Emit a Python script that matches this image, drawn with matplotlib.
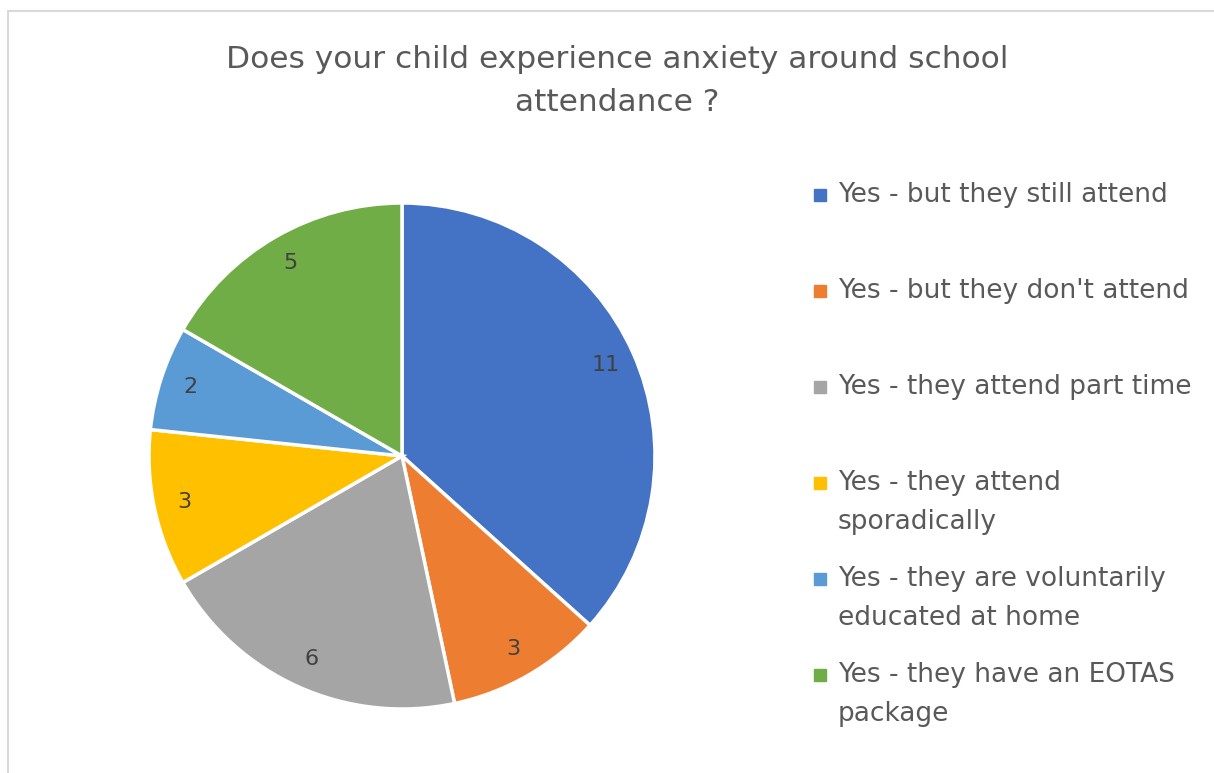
import matplotlib.pyplot as plt
from matplotlib.patches import Rectangle

# Данные опроса
labels = [
    "Yes - but they still attend",
    "Yes - but they don't attend",
    "Yes - they attend part time",
    "Yes - they attend\nsporadically",
    "Yes - they are voluntarily\neducated at home",
    "Yes - they have an EOTAS\npackage",
]
counts = [11, 3, 6, 3, 2, 5]
colors = ["#4472C4", "#ED7D31", "#A5A5A5", "#FFC000", "#5B9BD5", "#70AD47"]
title = "Does your child experience anxiety around school\nattendance ?"

W, H = 1214, 773
text_color = "#595959"
plt.rcParams['font.family'] = ['DejaVu Sans']

fig = plt.figure(figsize=(W / 100, H / 100), dpi=100)

# рамка диаграммы (правый и нижний край уходят за пределы картинки)
fig.patches.append(Rectangle((8 / W, -0.05), 1.1, 1 - 11 / H + 0.05,
                             transform=fig.transFigure, fill=False,
                             edgecolor="#D9D9D9", linewidth=1.5))

fig.text(617 / W, 1 - 81 / H, title, ha="center", va="center",
         fontsize=22.5, color=text_color, linespacing=1.65)

cx, cy, r = 402, 456, 253
ax = fig.add_axes([(cx - r) / W, (H - cy - r) / H, 2 * r / W, 2 * r / H])
wedges, texts, autotexts = ax.pie(
    counts, colors=colors, startangle=90, counterclock=False,
    autopct=lambda p: f"{round(p * sum(counts) / 100)}", pctdistance=0.88,
    wedgeprops=dict(edgecolor="white", linewidth=2.5),
    textprops=dict(fontsize=16, color="#404040"))
ax.set_xlim(-1, 1)
ax.set_ylim(-1, 1)
ax.set_aspect("equal")

# легенда вручную: квадрат у первой строки
for i, (lab, col) in enumerate(zip(labels, colors)):
    y = 195 + 96 * i
    fig.patches.append(Rectangle((814 / W, 1 - (y + 6) / H), 12 / W, 12 / H,
                                 transform=fig.transFigure, color=col))
    for k, line in enumerate(lab.split("\n")):
        fig.text(838 / W, 1 - (y + 39 * k) / H, line, ha="left", va="center",
                 fontsize=19, color=text_color)

plt.savefig("out.png", dpi=100)
